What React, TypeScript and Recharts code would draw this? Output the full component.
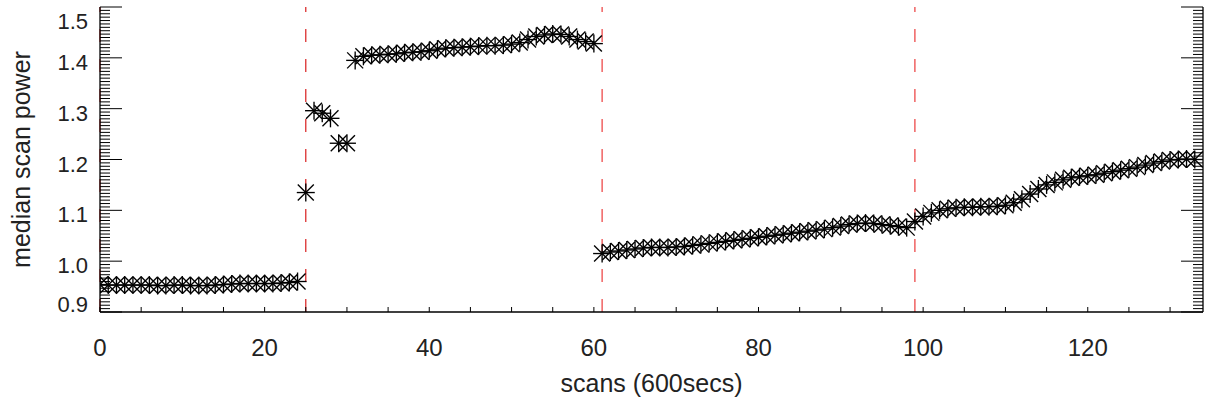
import React from "react";
import { ScatterChart, Scatter, XAxis, YAxis, ReferenceLine } from "recharts";

// median scan power per scan (600 s each), scans 0..133
const power = [
  0.954, 0.953, 0.953, 0.953, 0.953, 0.953, 0.953, 0.952, 0.952, 0.953,
  0.953, 0.952, 0.952, 0.952, 0.953, 0.954, 0.955, 0.956, 0.956, 0.956,
  0.956, 0.956, 0.957, 0.958, 0.96,
  1.135, 1.296, 1.291, 1.281, 1.232, 1.232,
  1.395, 1.403, 1.405, 1.406, 1.407, 1.408, 1.41, 1.411, 1.412, 1.414,
  1.417, 1.419, 1.42, 1.421, 1.422, 1.423, 1.424, 1.424, 1.425, 1.427,
  1.43, 1.436, 1.442, 1.445, 1.447, 1.446, 1.442, 1.436, 1.432, 1.428,
  1.015, 1.018, 1.02, 1.022, 1.024, 1.026, 1.027, 1.027, 1.027, 1.028,
  1.029, 1.031, 1.033, 1.035, 1.037, 1.039, 1.041, 1.043, 1.045, 1.047,
  1.049, 1.051, 1.053, 1.055, 1.057, 1.059, 1.061, 1.063, 1.066, 1.069,
  1.072, 1.074, 1.075, 1.074, 1.072, 1.07, 1.068, 1.066,
  1.078, 1.088, 1.095, 1.1, 1.103, 1.105, 1.106, 1.106, 1.107, 1.107,
  1.108, 1.11, 1.115, 1.122, 1.132, 1.142, 1.15, 1.155, 1.16, 1.164,
  1.166, 1.168, 1.17, 1.173, 1.176, 1.179, 1.182, 1.185, 1.189, 1.193,
  1.196, 1.199, 1.2, 1.201, 1.2,
];

// scan numbers where the setup changed
const breaks = [0, 25, 61, 99];

const xLabels = [0, 20, 40, 60, 80, 100, 120];
const xTicks = Array.from({ length: 27 }, (_, i) => i * 5);
const yLabels = [0.9, 1.0, 1.1, 1.2, 1.3, 1.4, 1.5];
const yTicks = Array.from({ length: 91 }, (_, i) => Number((0.9 + (i * 0.1) / 15).toFixed(5)));

const points = power.map((y, x) => ({ x, y }));

const FONT = "'Liberation Sans', Arial, Helvetica, sans-serif";
const INK = "#222";

const isMajor = (v: number) => yLabels.some((l) => Math.abs(l - v) < 1e-4);

const Asterisk = (props: any) => {
  const { cx, cy } = props;
  if (cx == null || cy == null) return null;
  const r = 9;
  const d = 8;
  return (
    <g stroke="#000" strokeWidth={1.35}>
      <line x1={cx - r} y1={cy} x2={cx + r} y2={cy} />
      <line x1={cx} y1={cy - r} x2={cx} y2={cy + r} />
      <line x1={cx - d} y1={cy - d} x2={cx + d} y2={cy + d} />
      <line x1={cx - d} y1={cy + d} x2={cx + d} y2={cy - d} />
    </g>
  );
};

const LeftTick = (props: any) => {
  const { x, y, payload } = props;
  const v = payload.value;
  const major = isMajor(v);
  let dy = 4.5;
  if (Math.abs(v - 1.5) < 1e-4) dy = 14;
  if (Math.abs(v - 0.9) < 1e-4) dy = -7.7;
  return (
    <g>
      <line x1={x} y1={y} x2={x + (major ? 22 : 10)} y2={y} stroke="#000" strokeWidth={1} />
      {major && (
        <text x={x - 12} y={y + dy} textAnchor="end" dominantBaseline="central" fill={INK} fontSize={22} fontFamily={FONT}>
          {v.toFixed(1)}
        </text>
      )}
    </g>
  );
};

const RightTick = (props: any) => {
  const { x, y, payload } = props;
  const major = isMajor(payload.value);
  return <line x1={x} y1={y} x2={x - (major ? 22 : 10)} y2={y} stroke="#000" strokeWidth={1} />;
};

const BottomTick = (props: any) => {
  const { x, y, payload } = props;
  const v = payload.value;
  return (
    <g>
      <line x1={x} y1={y} x2={x} y2={y - 5} stroke="#000" strokeWidth={1} />
      {xLabels.includes(v) && (
        <text x={x} y={y + 35} textAnchor="middle" dominantBaseline="central" fill={INK} fontSize={24} fontFamily={FONT}>
          {v}
        </text>
      )}
    </g>
  );
};

const TopTick = (props: any) => {
  const { x, y } = props;
  return <line x1={x} y1={y} x2={x} y2={y + 5} stroke="#000" strokeWidth={1} />;
};

export default function App() {
  return (
    <div style={{ position: "absolute", left: 0, top: 0, background: "#fff" }}>
      <ScatterChart width={1208} height={405} margin={{ top: 7, right: 0, bottom: 0, left: 0 }}>
        <XAxis
          xAxisId="b"
          dataKey="x"
          type="number"
          domain={[0, 134]}
          allowDataOverflow
          ticks={xTicks}
          interval={0}
          height={93}
          tickSize={0}
          tickMargin={0}
          tickLine={false}
          axisLine={{ stroke: "#000", strokeWidth: 1.3 }}
          tick={<BottomTick />}
          label={{
            content: (p: any) => (
              <text
                x={p.viewBox.x + p.viewBox.width / 2}
                y={383}
                textAnchor="middle"
                dominantBaseline="central"
                fill={INK}
                fontSize={25}
                fontFamily={FONT}
              >
                scans (600secs)
              </text>
            ),
          }}
        />
        <XAxis
          xAxisId="t"
          orientation="top"
          type="number"
          domain={[0, 134]}
          allowDataOverflow
          ticks={xTicks}
          interval={0}
          height={0}
          tickSize={0}
          tickMargin={0}
          tickLine={false}
          axisLine={{ stroke: "#000", strokeWidth: 1.3 }}
          tick={<TopTick />}
        />
        <YAxis
          yAxisId="l"
          dataKey="y"
          type="number"
          domain={[0.9, 1.5]}
          allowDataOverflow
          ticks={yTicks}
          interval={0}
          width={100}
          tickSize={0}
          tickMargin={0}
          tickLine={false}
          axisLine={{ stroke: "#000", strokeWidth: 1.3 }}
          tick={<LeftTick />}
          label={{
            content: (p: any) => (
              <text
                x={21}
                y={p.viewBox.y + p.viewBox.height / 2}
                transform={`rotate(-90 21 ${p.viewBox.y + p.viewBox.height / 2})`}
                textAnchor="middle"
                dominantBaseline="central"
                fill={INK}
                fontSize={25}
                fontFamily={FONT}
              >
                median scan power
              </text>
            ),
          }}
        />
        <YAxis
          yAxisId="r"
          orientation="right"
          type="number"
          domain={[0.9, 1.5]}
          allowDataOverflow
          ticks={yTicks}
          interval={0}
          width={5}
          tickSize={0}
          tickMargin={0}
          tickLine={false}
          axisLine={{ stroke: "#000", strokeWidth: 1.3 }}
          tick={<RightTick />}
        />
        {breaks.map((b) => (
          <ReferenceLine
            key={b}
            x={b}
            xAxisId="b"
            yAxisId="l"
            stroke={b === 25 ? "#d81e1e" : "#ec3b3b"}
            strokeWidth={1.2}
            strokeDasharray="13 17"
          />
        ))}
        <Scatter
          data={points}
          xAxisId="b"
          yAxisId="l"
          shape={Asterisk}
          isAnimationActive={false}
        />
      </ScatterChart>
    </div>
  );
}
